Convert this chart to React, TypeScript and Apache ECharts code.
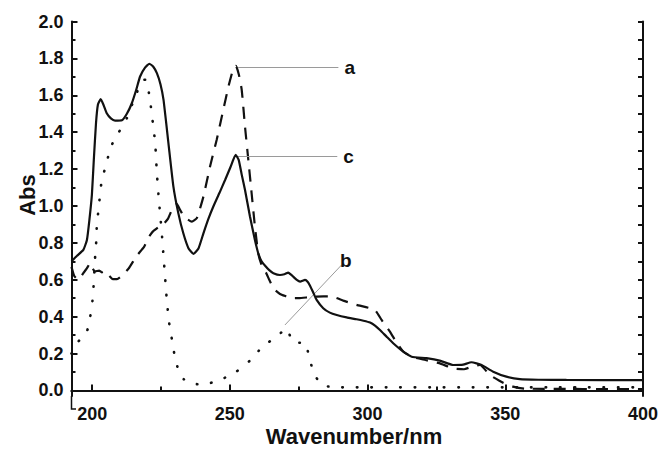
import React, { useEffect, useRef } from "react";
import * as echarts from "echarts";

// Curve c (solid)
const waveC = [192.5, 194.5, 196.8, 198.1, 199.0, 199.9, 200.6, 201.4, 202.1, 203.1, 204.2, 205.3, 206.8, 208.3, 210.8, 212.6, 214.4, 216.0, 217.4, 219.2, 220.8, 222.2, 223.5, 224.8, 225.9, 227.7, 229.5, 231.3, 233.1, 235.0, 236.8, 238.6, 240.4, 242.2, 244.0, 246.2, 248.3, 250.2, 252.1, 253.2, 254.3, 255.5, 257.3, 259.1, 260.3, 261.5, 262.8, 264.3, 265.8, 268.2, 269.8, 271.2, 272.2, 273.0, 274.3, 275.5, 277.3, 278.3, 279.1, 280.3, 281.5, 283.9, 286.3, 288.8, 292.4, 296.0, 298.5, 300.9, 302.7, 304.5, 307.0, 309.3, 313.0, 316.0, 321.4, 326.2, 331.1, 334.7, 337.7, 341.4, 345.6, 350.4, 355.3, 362, 372.2, 400];
const absC = [0.70, 0.73, 0.762, 0.816, 0.925, 1.06, 1.25, 1.45, 1.55, 1.579, 1.545, 1.503, 1.475, 1.463, 1.465, 1.50, 1.557, 1.63, 1.702, 1.75, 1.771, 1.755, 1.72, 1.66, 1.576, 1.34, 1.105, 0.96, 0.852, 0.77, 0.74, 0.77, 0.852, 0.93, 0.997, 1.07, 1.142, 1.21, 1.277, 1.25, 1.17, 1.087, 0.943, 0.816, 0.744, 0.70, 0.676, 0.652, 0.636, 0.626, 0.63, 0.639, 0.628, 0.617, 0.599, 0.59, 0.599, 0.588, 0.568, 0.53, 0.491, 0.446, 0.422, 0.409, 0.396, 0.386, 0.378, 0.368, 0.352, 0.328, 0.29, 0.256, 0.21, 0.183, 0.175, 0.162, 0.138, 0.14, 0.153, 0.138, 0.102, 0.075, 0.061, 0.058, 0.057, 0.056];

// Curve a (dashed)
const waveA = [192.5, 193.5, 195.0, 196.8, 198.0, 199.3, 200.2, 201.1, 202.5, 203.5, 204.7, 206.0, 207.5, 209.0, 211.0, 213.2, 216.0, 218.9, 220.5, 222.0, 224.0, 225.9, 227.5, 229.5, 230.7, 231.9, 233.5, 236.2, 238.0, 240.4, 242.8, 245.2, 247.6, 249.5, 251.3, 252.2, 253.3, 254.3, 255.5, 256.7, 257.9, 259.1, 260.3, 261.5, 263.1, 264.3, 266.0, 268.2, 270.5, 272.4, 275, 278.5, 281.5, 284, 287.0, 291.2, 296.0, 300.8, 303.0, 305.1, 306.6, 308.1, 310.5, 313.0, 316.6, 321.0, 326.0, 331.0, 335.0, 338.0, 340.8, 344.4, 349.2, 352.8, 357, 400];
const absA = [0.67, 0.62, 0.60, 0.636, 0.66, 0.69, 0.66, 0.645, 0.65, 0.64, 0.646, 0.625, 0.603, 0.603, 0.625, 0.66, 0.726, 0.78, 0.83, 0.861, 0.885, 0.903, 0.93, 0.997, 1.011, 0.979, 0.94, 0.915, 0.934, 1.051, 1.214, 1.358, 1.521, 1.648, 1.747, 1.759, 1.71, 1.63, 1.43, 1.25, 1.069, 0.888, 0.744, 0.68, 0.64, 0.60, 0.55, 0.523, 0.51, 0.50, 0.50, 0.505, 0.509, 0.51, 0.509, 0.487, 0.464, 0.446, 0.43, 0.382, 0.35, 0.319, 0.26, 0.21, 0.18, 0.165, 0.148, 0.12, 0.115, 0.13, 0.138, 0.084, 0.042, 0.021, 0.01, 0.007];

// Curve b (dotted)
const waveB = [192.5, 194.2, 196.2, 198.1, 199.3, 200.1, 200.5, 201.1, 201.5, 201.7, 202.3, 203.5, 205.3, 206.5, 209.5, 212.6, 215.6, 218.6, 219.6, 221.0, 222.2, 222.9, 223.5, 224.3, 224.9, 225.4, 225.8, 226.2, 226.6, 227.0, 227.5, 228.1, 229.0, 229.9, 231.3, 233.3, 235.6, 238.3, 241.0, 246.4, 251.9, 257.3, 261.9, 267.0, 270.6, 272.0, 273.3, 277.3, 278.8, 280.5, 282.5, 284.5, 290, 400];
const absB = [0.2, 0.252, 0.285, 0.319, 0.40, 0.485, 0.563, 0.729, 0.812, 0.897, 0.979, 1.142, 1.232, 1.313, 1.395, 1.476, 1.593, 1.684, 1.684, 1.575, 1.43, 1.34, 1.178, 1.02, 0.92, 0.83, 0.75, 0.67, 0.59, 0.51, 0.43, 0.35, 0.274, 0.193, 0.111, 0.06, 0.039, 0.034, 0.034, 0.057, 0.097, 0.162, 0.238, 0.292, 0.337, 0.29, 0.259, 0.259, 0.178, 0.093, 0.045, 0.024, 0.017, 0.017];

// Axis ticks / labels
const xMajor = [200, 250, 300, 350, 400];
const xMinor = [225, 275, 325, 375];
const yMajor = [0, 0.2, 0.4, 0.6, 0.8, 1.0, 1.2, 1.4, 1.6, 1.8, 2.0];
const yMinor = [0.1, 0.3, 0.5, 0.7, 0.9, 1.1, 1.3, 1.5, 1.7, 1.9];

// Curve labels with pointer lines [label, from(x,y), to(x,y)]
const pointerNames = ["a", "c", "b"];
const pointerFrom = [[253.0, 1.752], [252.6, 1.268], [270.0, 0.355]];
const pointerTo = [[289.4, 1.752], [289.0, 1.268], [290.6, 0.681]];

const FONT = "'Liberation Sans', Arial, Helvetica, sans-serif";
const INK = "#111";

export default function App() {
  const ref = useRef<HTMLDivElement>(null);

  useEffect(() => {
    document.body.style.margin = "0";
    if (!ref.current) return;
    const chart = echarts.init(ref.current, null, { renderer: "svg" });

    const zip = (xs: number[], ys: number[]) => xs.map((x, i) => [x, ys[i]]);

    const xBase = { type: "value", min: 192.5, max: 400, splitLine: { show: false } };
    const yBase = { type: "value", min: -0.03, max: 2.0, splitLine: { show: false } };
    const axisLine = { show: true, lineStyle: { color: INK, width: 2 } };
    const noLine = { show: false };
    const labelStyle = { color: INK, fontSize: 18, fontWeight: "bold", fontFamily: FONT };

    const markData = pointerNames.map((n, i) => [
      { name: n, coord: pointerFrom[i] },
      { name: n, coord: pointerTo[i] },
    ]);

    chart.setOption({
      animation: false,
      backgroundColor: "#ffffff",
      grid: { left: 71.5, right: 19, top: 21.5, bottom: 54 },
      xAxis: [
        {
          ...xBase,
          position: "bottom",
          axisLine,
          axisTick: { show: true, inside: true, length: 6, lineStyle: { color: INK, width: 2 }, customValues: xMajor },
          axisLabel: { ...labelStyle, margin: 9, customValues: xMajor },
        },
        {
          ...xBase,
          position: "bottom",
          axisLine: noLine,
          axisTick: { show: true, inside: true, length: 4, lineStyle: { color: INK, width: 2 }, customValues: xMinor },
          axisLabel: { show: false },
        },
        {
          ...xBase,
          position: "top",
          axisLine,
          axisTick: { show: false },
          axisLabel: { show: false },
        },
      ],
      yAxis: [
        {
          ...yBase,
          position: "left",
          axisLine,
          axisTick: { show: true, inside: true, length: 6, lineStyle: { color: INK, width: 2 }, customValues: yMajor },
          axisLabel: { ...labelStyle, margin: 8, customValues: yMajor, formatter: (v: number) => v.toFixed(1) },
        },
        {
          ...yBase,
          position: "left",
          axisLine: noLine,
          axisTick: { show: true, inside: true, length: 4, lineStyle: { color: INK, width: 2 }, customValues: yMinor },
          axisLabel: { show: false },
        },
        {
          ...yBase,
          position: "right",
          axisLine,
          axisTick: { show: true, inside: true, length: 5, lineStyle: { color: INK, width: 2 }, customValues: yMajor },
          axisLabel: { show: false },
        },
        {
          ...yBase,
          position: "right",
          axisLine: noLine,
          axisTick: { show: true, inside: true, length: 5, lineStyle: { color: INK, width: 2 }, customValues: yMinor },
          axisLabel: { show: false },
        },
      ],
      series: [
        {
          name: "b",
          type: "line",
          data: zip(waveB, absB),
          showSymbol: false,
          symbol: "none",
          smooth: 0.15,
          lineStyle: { color: INK, width: 2.6, type: [0.5, 14], cap: "round" },
          z: 3,
        },
        {
          name: "a",
          type: "line",
          data: zip(waveA, absA),
          showSymbol: false,
          symbol: "none",
          smooth: 0.15,
          lineStyle: { color: INK, width: 2.2, type: [12, 9] },
          z: 4,
        },
        {
          name: "c",
          type: "line",
          data: zip(waveC, absC),
          showSymbol: false,
          symbol: "none",
          smooth: 0.15,
          lineStyle: { color: INK, width: 2.2, type: "solid" },
          z: 5,
          markLine: {
            silent: true,
            symbol: ["none", "none"],
            animation: false,
            lineStyle: { color: "#9a9a9a", width: 1, type: "solid" },
            label: {
              show: true,
              position: "end",
              distance: 6,
              formatter: (p: any) => p.name,
              color: INK,
              fontSize: 19,
              fontWeight: "bold",
              fontFamily: FONT,
            },
            data: markData,
          },
        },
      ],
      graphic: [
        {
          type: "text",
          x: 354,
          y: 436,
          style: {
            text: "Wavenumber/nm",
            font: `bold 22px ${FONT}`,
            fill: INK,
            align: "center",
            verticalAlign: "middle",
          },
        },
        {
          type: "text",
          x: 27,
          y: 195,
          rotation: Math.PI / 2,
          style: {
            text: "Abs",
            font: `bold 22px ${FONT}`,
            fill: INK,
            align: "center",
            verticalAlign: "middle",
          },
        },
        {
          type: "polyline",
          shape: { points: [[71.5, 396], [71.5, 409], [76, 409]] },
          style: { stroke: INK, lineWidth: 1.5, fill: "none" },
        },
      ],
    });

    return () => chart.dispose();
  }, []);

  return <div ref={ref} style={{ width: 662, height: 450 }} />;
}
